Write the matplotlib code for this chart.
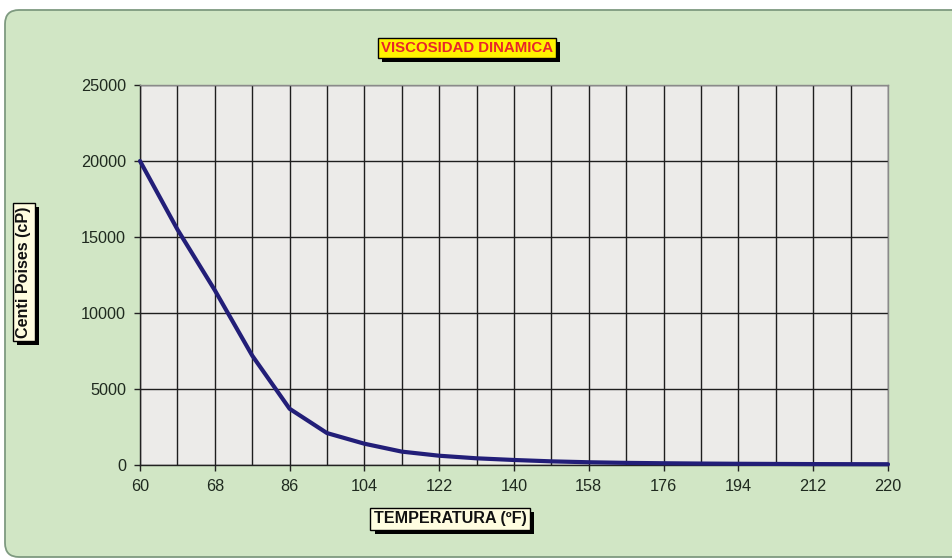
import matplotlib
matplotlib.use("Agg")
import matplotlib.pyplot as plt
import matplotlib.patheffects as pe
from matplotlib.patches import FancyBboxPatch
from matplotlib.transforms import IdentityTransform

# temperature categories (ºF) and dynamic viscosity (cP)
temps = [60, 64, 68, 77, 86, 95, 104, 113, 122, 131, 140,
         149, 158, 167, 176, 185, 194, 203, 212, 216, 220]
visc = [20000, 15500, 11500, 7200, 3700, 2100, 1400, 880, 610, 440, 330,
        240, 180, 140, 115, 95, 80, 70, 60, 55, 50]
yticks = [0, 5000, 10000, 15000, 20000, 25000]

plt.rcParams["font.family"] = ["Liberation Sans", "DejaVu Sans"]

fig = plt.figure(figsize=(9.52, 5.6), dpi=100)
fig.patch.set_facecolor("white")

# green chart area with rounded corners (pixel coordinates)
frame = FancyBboxPatch((5, 3), 980, 547,
                       boxstyle="round,pad=0,rounding_size=14",
                       transform=IdentityTransform(),
                       facecolor="#D1E6C5", edgecolor="#7E9A80", linewidth=1.3,
                       zorder=-5)
fig.add_artist(frame)

ax = fig.add_axes([140 / 952, 1 - 465 / 560, 748 / 952, 380 / 560])
ax.set_zorder(2)
ax.set_facecolor("#ECEBE9")

x = list(range(len(temps)))
ax.plot(x, visc, color="#221E78", linewidth=3.0, solid_joinstyle="round",
        solid_capstyle="round", zorder=3, clip_on=False)

ax.set_xlim(0, len(temps) - 1)
ax.set_ylim(0, 25000)

# gridlines on every category, labels every second one
ax.set_xticks(x, minor=True)
ax.set_xticks(x[::2])
ax.set_xticklabels([str(t) for t in temps[::2]])
ax.set_yticks(yticks)
ax.set_yticklabels([str(v) for v in yticks])

ax.grid(True, which="both", axis="x", color="#1E1E1E", linewidth=1.0)
ax.grid(True, which="major", axis="y", color="#1E1E1E", linewidth=1.0)
ax.set_axisbelow(True)

ax.tick_params(axis="both", which="major", length=4, width=1, color="#222222",
               labelsize=11.7, labelcolor="#1F2A1F", pad=6)
ax.tick_params(axis="x", which="minor", length=0)

for s in ["top", "right"]:
    ax.spines[s].set_color("#8A8A8A")
    ax.spines[s].set_linewidth(1.0)
for s in ["left", "bottom"]:
    ax.spines[s].set_color("#222222")
    ax.spines[s].set_linewidth(1.0)

shadow = [pe.withSimplePatchShadow(offset=(3, -3), shadow_rgbFace="black", alpha=1.0)]

t = fig.text(467 / 952, 1 - 48 / 560, "VISCOSIDAD DINAMICA", ha="center", va="center",
             fontsize=10.8, fontweight="bold", color="#E8262A", zorder=5,
             bbox=dict(boxstyle="square,pad=0.2", facecolor="#FFF200",
                       edgecolor="black", linewidth=1.0))
t.get_bbox_patch().set_path_effects(shadow)

xl = fig.text(450 / 952, 1 - 519 / 560, "TEMPERATURA (ºF)", ha="center", va="center",
              fontsize=11.6, fontweight="bold", color="#111111", zorder=5,
              bbox=dict(boxstyle="square,pad=0.2", facecolor="#FFFDE0",
                        edgecolor="black", linewidth=1.0))
xl.get_bbox_patch().set_path_effects(shadow)

yl = fig.text(24 / 952, 1 - 272 / 560, "Centi Poises (cP)", ha="center", va="center",
              rotation=90, fontsize=11.6, fontweight="bold", color="#111111", zorder=5,
              bbox=dict(boxstyle="square,pad=0.2", facecolor="#FFFDE0",
                        edgecolor="black", linewidth=1.0))
yl.get_bbox_patch().set_path_effects(shadow)

fig.savefig("out.png", dpi=100)
